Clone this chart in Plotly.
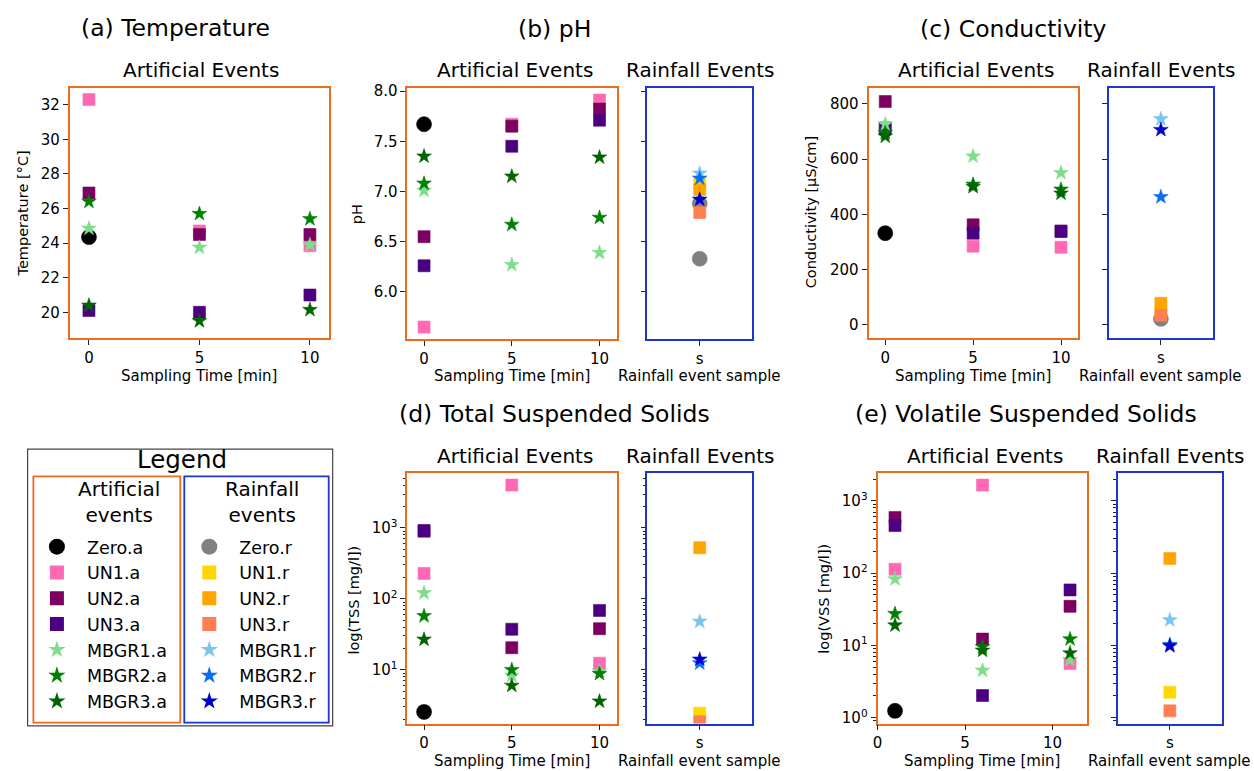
import plotly.graph_objects as go

W, H = 1254, 771
FONT = "DejaVu Sans"

# ---------------- data ----------------
art_series = ["Zero.a", "UN1.a", "UN2.a", "UN3.a", "MBGR1.a", "MBGR2.a", "MBGR3.a"]
art_colors = ["#000000", "#FF69B4", "#7B0062", "#4B0082", "#7FDC8A", "#008000", "#006400"]
rain_series = ["Zero.r", "UN1.r", "UN2.r", "UN3.r", "MBGR1.r", "MBGR2.r", "MBGR3.r"]
rain_colors = ["#808080", "#FFD700", "#FFA500", "#FF7F50", "#78C6EE", "#0A6EF5", "#0000CD"]
series_symbols = ["circle", "square", "square", "square", "star", "star", "star"]

sampling_time = [0, 5, 10]
sampling_time_vss = [1, 6, 11]
rain_category = ["s"]
log_tick_vals = [1, 10, 100, 1000]
log_tick_text = ["10<sup>0</sup>", "10<sup>1</sup>", "10<sup>2</sup>", "10<sup>3</sup>"]

temp_art = {
    "Zero.a": [24.35, None, None],
    "UN1.a": [32.3, 24.7, 23.85],
    "UN2.a": [26.9, 24.5, 24.5],
    "UN3.a": [20.1, 20.0, 21.0],
    "MBGR1.a": [24.85, 23.75, 23.9],
    "MBGR2.a": [26.4, 25.7, 25.4],
    "MBGR3.a": [20.4, 19.5, 20.15],
}
ph_art = {
    "Zero.a": [7.67, None, None],
    "UN1.a": [5.65, 7.67, 7.91],
    "UN2.a": [6.55, 7.65, 7.82],
    "UN3.a": [6.26, 7.45, 7.71],
    "MBGR1.a": [7.01, 6.27, 6.39],
    "MBGR2.a": [7.08, 6.67, 6.74],
    "MBGR3.a": [7.35, 7.15, 7.34],
}
ph_rain = {
    "Zero.r": [6.88, 6.33],
    "UN1.r": [7.08],
    "UN2.r": [7.02],
    "UN3.r": [6.79],
    "MBGR1.r": [7.18],
    "MBGR2.r": [7.13],
    "MBGR3.r": [6.92],
}
cond_art = {
    "Zero.a": [332, None, None],
    "UN1.a": [712, 285, 281],
    "UN2.a": [808, 362, 340],
    "UN3.a": [712, 332, 338],
    "MBGR1.a": [726, 610, 550],
    "MBGR2.a": [695, 508, 490],
    "MBGR3.a": [682, 500, 476],
}
cond_rain = {
    "Zero.r": [22],
    "UN1.r": [50],
    "UN2.r": [78],
    "UN3.r": [35],
    "MBGR1.r": [745],
    "MBGR2.r": [463],
    "MBGR3.r": [706],
}
tss_art = {
    "Zero.a": [2.55, None, None],
    "UN1.a": [228, 4020, 12.4],
    "UN2.a": [900, 20.5, 38],
    "UN3.a": [917, 37.3, 68.7],
    "MBGR1.a": [121, 8.3, 9.5],
    "MBGR2.a": [57.4, 10.0, 8.8],
    "MBGR3.a": [26.8, 6.0, 3.6],
}
tss_rain = {
    "Zero.r": [None],
    "UN1.r": [2.45],
    "UN2.r": [525],
    "UN3.r": [1.85],
    "MBGR1.r": [48],
    "MBGR2.r": [12.4],
    "MBGR3.r": [14.0],
}
vss_art = {
    "Zero.a": [1.24, None, None],
    "UN1.a": [113, 1657, 5.6],
    "UN2.a": [590, 12.2, 34.7],
    "UN3.a": [455, 2.02, 58.5],
    "MBGR1.a": [82.8, 4.5, 6.3],
    "MBGR2.a": [27.4, 9.5, 12.2],
    "MBGR3.a": [19.0, 8.5, 7.8],
}
vss_rain = {
    "Zero.r": [None],
    "UN1.r": [2.25],
    "UN2.r": [159],
    "UN3.r": [1.24],
    "MBGR1.r": [22.4],
    "MBGR2.r": [10.2],
    "MBGR3.r": [9.8],
}

# ---------------- style ----------------
ORANGE = "#EE6A1C"
BLUE = "#1F35D0"
SYM_SIZE = {"circle": 15, "square": 12, "star": 11}
LEG_SIZE = {"circle": 16, "square": 14, "star": 13}


def dx(l, r):
    return [l / W, r / W]


def dy(t, b):
    return [1 - b / H, 1 - t / H]


fig = go.Figure()


def add_art(data, times, xa, ya):
    for name, col, sym in zip(art_series, art_colors, series_symbols):
        fig.add_trace(go.Scatter(
            x=times, y=data[name], mode="markers", name=name, showlegend=False,
            marker=dict(color=col, symbol=sym, size=SYM_SIZE[sym],
                        line=dict(width=0.6, color=col)),
            xaxis=xa, yaxis=ya))


def add_rain(data, xa, ya):
    for name, col, sym in zip(rain_series, rain_colors, series_symbols):
        vals = data[name]
        fig.add_trace(go.Scatter(
            x=rain_category * len(vals), y=vals, mode="markers", name=name, showlegend=False,
            marker=dict(color=col, symbol=sym, size=SYM_SIZE[sym],
                        line=dict(width=0.6, color=col)),
            xaxis=xa, yaxis=ya))


add_art(temp_art, sampling_time, "x", "y")
add_art(ph_art, sampling_time, "x2", "y2")
add_rain(ph_rain, "x3", "y3")
add_art(cond_art, sampling_time, "x4", "y4")
add_rain(cond_rain, "x5", "y5")
add_art(tss_art, sampling_time, "x6", "y6")
add_rain(tss_rain, "x7", "y7")
add_art(vss_art, sampling_time_vss, "x8", "y8")
add_rain(vss_rain, "x9", "y9")

# legend-only entries
for name, col, sym in zip(art_series, art_colors, series_symbols):
    fig.add_trace(go.Scatter(x=[None], y=[None], mode="markers", name=name, legend="legend",
                             marker=dict(color=col, symbol=sym, size=LEG_SIZE[sym]),
                             xaxis="x", yaxis="y"))
for name, col, sym in zip(rain_series, rain_colors, series_symbols):
    fig.add_trace(go.Scatter(x=[None], y=[None], mode="markers", name=name, legend="legend2",
                             marker=dict(color=col, symbol=sym, size=LEG_SIZE[sym]),
                             xaxis="x", yaxis="y"))

tickfont = dict(family=FONT, size=15, color="black")
MINOR = dict(ticks="outside", ticklen=2.5, tickwidth=1, tickcolor="#222", dtick="D1", showgrid=False)


def xax(dom, anchor, color, **kw):
    d = dict(domain=dom, anchor=anchor, showline=True, mirror=True, linecolor=color, linewidth=1.8,
             ticks="outside", ticklen=5, tickwidth=1.2, tickcolor="#222", showgrid=False,
             zeroline=False, tickfont=tickfont)
    d.update(kw)
    return d


def yax(dom, anchor, color, **kw):
    return xax(dom, anchor, color, **kw)


layout = dict(
    width=W, height=H, margin=dict(l=0, r=0, t=0, b=0),
    paper_bgcolor="white", plot_bgcolor="white",
    font=dict(family=FONT, color="black"),
    # (a)
    xaxis=xax(dx(65, 325), "y", ORANGE, range=[-0.87, 10.85], tickvals=sampling_time),
    yaxis=yax(dy(83, 336), "x", ORANGE, range=[18.51, 32.97], dtick=2, tick0=20),
    # (b)
    xaxis2=xax(dx(404, 614), "y2", ORANGE, range=[-0.95, 10.97], tickvals=sampling_time),
    yaxis2=yax(dy(83, 337), "x2", ORANGE, range=[5.53, 8.03], dtick=0.5, tick0=6, tickformat=".1f"),
    xaxis3=xax(dx(645, 750), "y3", BLUE, type="category", range=[-0.5, 0.5]),
    yaxis3=yax(dy(83, 337), "x3", BLUE, matches="y2", showticklabels=False, dtick=0.5, tick0=6),
    # (c)
    xaxis4=xax(dx(867, 1077), "y4", ORANGE, range=[-0.95, 10.95], tickvals=sampling_time),
    yaxis4=yax(dy(83, 336), "x4", ORANGE, range=[-47.6, 857], dtick=200, tick0=0),
    xaxis5=xax(dx(1108, 1213), "y5", BLUE, type="category", range=[-0.5, 0.5]),
    yaxis5=yax(dy(83, 336), "x5", BLUE, matches="y4", showticklabels=False, dtick=200, tick0=0),
    # (d)
    xaxis6=xax(dx(404, 614), "y6", ORANGE, range=[-0.95, 10.97], tickvals=sampling_time),
    yaxis6=yax(dy(473, 726), "x6", ORANGE, type="log", range=[0.243, 3.767],
               tickvals=log_tick_vals, ticktext=log_tick_text, minor=MINOR),
    xaxis7=xax(dx(645, 750), "y7", BLUE, type="category", range=[-0.5, 0.5]),
    yaxis7=yax(dy(473, 726), "x7", BLUE, type="log", matches="y6", showticklabels=False,
               tickvals=log_tick_vals, minor=MINOR),
    # (e)
    xaxis8=xax(dx(876, 1086), "y8", ORANGE, range=[0, 11.95], tickvals=[0, 5, 10]),
    yaxis8=yax(dy(473, 726), "x8", ORANGE, type="log", range=[-0.082, 3.379],
               tickvals=log_tick_vals, ticktext=log_tick_text, minor=MINOR),
    xaxis9=xax(dx(1117, 1222), "y9", BLUE, type="category", range=[-0.5, 0.5]),
    yaxis9=yax(dy(473, 726), "x9", BLUE, type="log", matches="y8", showticklabels=False,
               tickvals=log_tick_vals, minor=MINOR),
    legend=dict(x=22 / W, y=1 - 529 / H, xanchor="left", yanchor="top", bgcolor="rgba(0,0,0,0)",
                borderwidth=0, itemwidth=50, itemsizing="trace",
                font=dict(family=FONT, size=17.5, color="black")),
    legend2=dict(x=175 / W, y=1 - 529 / H, xanchor="left", yanchor="top", bgcolor="rgba(0,0,0,0)",
                 borderwidth=0, itemwidth=50, itemsizing="trace",
                 font=dict(family=FONT, size=17.5, color="black")),
)
fig.update_layout(**layout)

annotations = []


def ann(text, x, y, size, angle=0):
    annotations.append(dict(text=text, x=x / W, y=1 - y / H, xref="paper", yref="paper",
                            xanchor="center", yanchor="middle", showarrow=False, textangle=angle,
                            font=dict(family=FONT, size=size, color="black")))


# panel titles
ann("(a) Temperature", 171, 22, 23.5)
ann("(b) pH", 552, 23, 23.5)
ann("(c) Conductivity", 1013, 23, 23.5)
ann("(d) Total Suspended Solids", 552, 413, 23.5)
ann("(e) Volatile Suspended Solids", 1025, 413, 23.5)
# sub titles
ann("Artificial Events", 197, 65, 20)
ann("Artificial Events", 512, 65, 20)
ann("Rainfall Events", 697.5, 65, 20)
ann("Artificial Events", 975, 65, 20)
ann("Rainfall Events", 1160.5, 65, 20)
ann("Artificial Events", 512, 455, 20)
ann("Rainfall Events", 697.5, 455, 20)
ann("Artificial Events", 984, 455, 20)
ann("Rainfall Events", 1169.5, 455, 20)
# x axis titles
ann("Sampling Time [min]", 195, 374, 15)
ann("Sampling Time [min]", 509, 374, 15)
ann("Rainfall event sample", 697.5, 374, 15)
ann("Sampling Time [min]", 972, 374, 15)
ann("Rainfall event sample", 1160.5, 374, 15)
ann("Sampling Time [min]", 509, 764, 15)
ann("Rainfall event sample", 697.5, 764, 15)
ann("Sampling Time [min]", 981, 764, 15)
ann("Rainfall event sample", 1169.5, 764, 15)
# y axis titles
ann("Temperature [°C]", 18, 210, 14.5, -90)
ann("pH", 353, 211, 14.5, -90)
ann("Conductivity [μS/cm]", 809, 209, 14.5, -90)
ann("log(TSS [mg/l])", 350, 601, 14.5, -90)
ann("log(VSS [mg/l])", 822, 600, 14.5, -90)
# legend titles
ann("Legend", 178, 459, 24.5)
ann("Artificial<br>events", 114, 502, 20)
ann("Rainfall<br>events", 258, 502, 20)

fig.update_layout(annotations=annotations)

shapes = [
    dict(type="rect", xref="paper", yref="paper", x0=22.7 / W, x1=329 / W, y0=1 - 728.3 / H, y1=1 - 448.3 / H,
         line=dict(color="#444", width=1.2), fillcolor="rgba(0,0,0,0)"),
    dict(type="rect", xref="paper", yref="paper", x0=28.5 / W, x1=176 / W, y0=1 - 725 / H, y1=1 - 476 / H,
         line=dict(color=ORANGE, width=1.8), fillcolor="rgba(0,0,0,0)"),
    dict(type="rect", xref="paper", yref="paper", x0=180 / W, x1=325 / W, y0=1 - 725 / H, y1=1 - 476 / H,
         line=dict(color=BLUE, width=1.8), fillcolor="rgba(0,0,0,0)"),
]
fig.update_layout(shapes=shapes)

fig.write_html("out.html", config={"displayModeBar": False},
               post_script="document.body.style.margin='0';")
